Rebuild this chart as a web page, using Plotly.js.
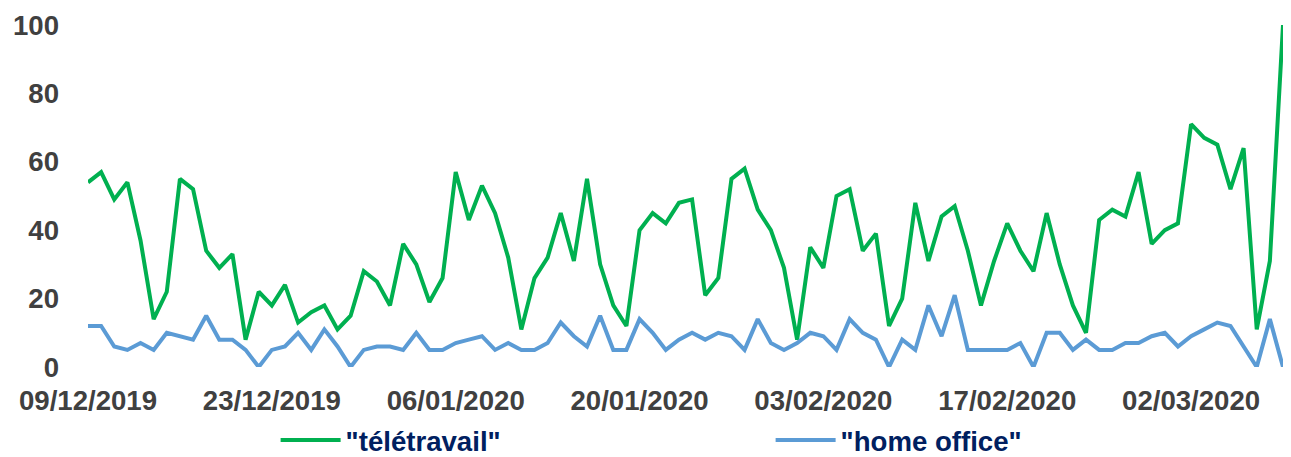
<!DOCTYPE html>
<html>
<head>
<meta charset="utf-8">
<script src="https://cdn.plot.ly/plotly-3.0.1.min.js"></script>
<style>
  html, body { margin: 0; padding: 0; background: #fff; }
  #chart { width: 1291px; height: 457px; }
</style>
</head>
<body>
<div id="chart"></div>
<script>
// Daily search interest, 09/12/2019 to 09/03/2020 (one value per day)
const startDate = '2019-12-09';

const teletravail = [
  54, 57, 49, 54, 37, 14, 22, 55, 52, 34,
  29, 33, 8, 22, 18, 24, 13, 16, 18, 11,
  15, 28, 25, 18, 36, 30, 19, 26, 57, 43,
  53, 45, 32, 11, 26, 32, 45, 31, 55, 30,
  18, 12, 40, 45, 42, 48, 49, 21, 26, 55,
  58, 46, 40, 29, 8, 35, 29, 50, 52, 34,
  39, 12, 20, 48, 31, 44, 47, 34, 18, 31,
  42, 34, 28, 45, 30, 18, 10, 43, 46, 44,
  57, 36, 40, 42, 71, 67, 65, 52, 64, 11,
  31, 100
];

const homeOffice = [
  12, 12, 6, 5, 7, 5, 10, 9, 8, 15,
  8, 8, 5, 0, 5, 6, 10, 5, 11, 6,
  0, 5, 6, 6, 5, 10, 5, 5, 7, 8,
  9, 5, 7, 5, 5, 7, 13, 9, 6, 15,
  5, 5, 14, 10, 5, 8, 10, 8, 10, 9,
  5, 14, 7, 5, 7, 10, 9, 5, 14, 10,
  8, 0, 8, 5, 18, 9, 21, 5, 5, 5,
  5, 7, 0, 10, 10, 5, 8, 5, 5, 7,
  7, 9, 10, 6, 9, 11, 13, 12, 6, 0,
  14, 0
];

const tickDates = ['2019-12-09', '2019-12-23', '2020-01-06', '2020-01-20', '2020-02-03', '2020-02-17', '2020-03-02'];
const tickLabels = ['09/12/2019', '23/12/2019', '06/01/2020', '20/01/2020', '03/02/2020', '17/02/2020', '02/03/2020'];

const seriesNames = ['"télétravail"', '"home office"'];
const seriesColors = ['#00B050', '#5B9BD5'];

// consecutive calendar days for the x positions
function dayList(start, n) {
  const out = [];
  const d0 = new Date(start + 'T00:00:00Z');
  for (let i = 0; i < n; i++) {
    const d = new Date(d0.getTime() + i * 86400000);
    out.push(d.toISOString().slice(0, 10));
  }
  return out;
}
const days = dayList(startDate, teletravail.length);

const traces = [teletravail, homeOffice].map((vals, k) => ({
  type: 'scatter',
  mode: 'lines',
  x: days,
  y: vals,
  name: seriesNames[k],
  line: { color: seriesColors[k], width: 4 },
  cliponaxis: false,
  hoverinfo: 'x+y'
}));

const fontFamily = 'Liberation Sans, Arial, sans-serif';
const tickFont = { family: fontFamily, size: 27.6, color: '#404040', weight: 'bold' };

const layout = {
  width: 1291,
  height: 457,
  margin: { l: 88, r: 8, t: 25, b: 90 },
  paper_bgcolor: '#ffffff',
  plot_bgcolor: '#ffffff',
  showlegend: true,
  xaxis: {
    type: 'date',
    range: [days[0], days[days.length - 1]],
    tickvals: tickDates,
    ticktext: tickLabels,
    tickfont: tickFont,
    showgrid: false,
    zeroline: false,
    showline: false,
    ticks: '',
    ticklabelstandoff: 14,
    automargin: false
  },
  yaxis: {
    range: [0, 100],
    tickvals: [0, 20, 40, 60, 80, 100],
    tickfont: tickFont,
    showgrid: false,
    zeroline: false,
    showline: false,
    ticks: '',
    ticklabelstandoff: 28,
    automargin: false
  },
  legend: {
    orientation: 'h',
    xref: 'paper',
    x: 0.157,
    xanchor: 'left',
    yref: 'container',
    y: 0.037,
    yanchor: 'middle',
    itemwidth: 60,
    entrywidth: 420,
    font: { family: fontFamily, size: 27.6, color: '#002060', weight: 'bold' },
    bgcolor: 'rgba(0,0,0,0)'
  }
};

Plotly.newPlot('chart', traces, layout, { displayModeBar: false, staticPlot: true });
</script>
</body>
</html>
